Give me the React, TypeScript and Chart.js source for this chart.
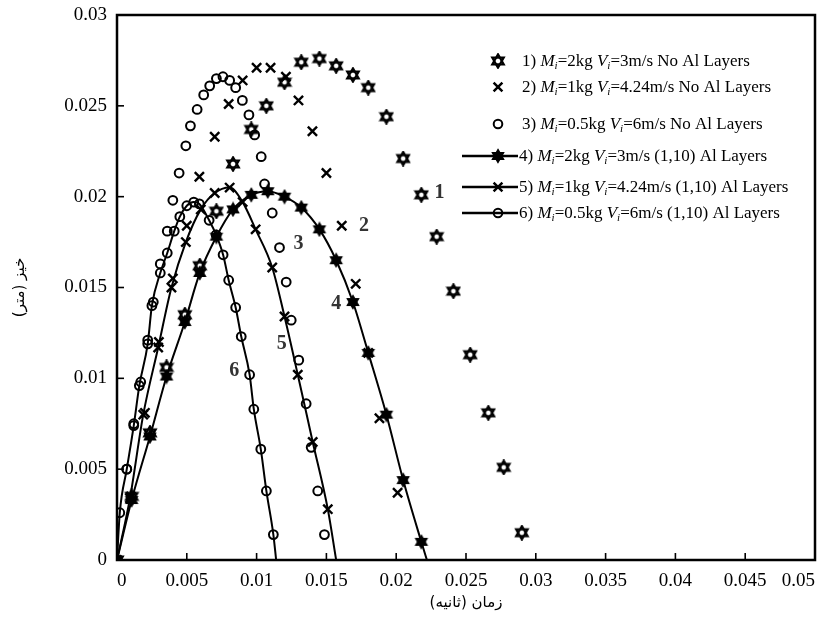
import React, { useEffect, useRef } from "react";
import { Chart, registerables } from "chart.js";
Chart.register(...registerables);

// ---- data ----
const s1X = [0, 0.00105, 0.00236, 0.00355, 0.00486, 0.00593, 0.00712, 0.00831, 0.00962, 0.0107, 0.012, 0.0132, 0.0145, 0.0157, 0.0169, 0.018, 0.0193, 0.0205, 0.0218, 0.0229, 0.0241, 0.0253, 0.0266, 0.0277, 0.029];
const s1Y = [0, 0.0035, 0.007, 0.0106, 0.0135, 0.0162, 0.0192, 0.0218, 0.0237, 0.025, 0.0263, 0.0274, 0.0276, 0.0272, 0.0267, 0.026, 0.0244, 0.0221, 0.0201, 0.0178, 0.0148, 0.0113, 0.0081, 0.0051, 0.0015];

const s2X = [0.001, 0.002, 0.003, 0.004, 0.005, 0.0059, 0.007, 0.008, 0.009, 0.01, 0.011, 0.0121, 0.013, 0.014, 0.015, 0.0161, 0.0171, 0.018, 0.0188, 0.0201];
const s2Y = [0.0035, 0.0081, 0.012, 0.0155, 0.0184, 0.0211, 0.0233, 0.0251, 0.0264, 0.0271, 0.0271, 0.0266, 0.0253, 0.0236, 0.0213, 0.0184, 0.0152, 0.0114, 0.0078, 0.0037];

const s3X = [0.0007, 0.0012, 0.0017, 0.0022, 0.0026, 0.0031, 0.0036, 0.004, 0.00445, 0.00493, 0.00526, 0.00574, 0.00621, 0.00664, 0.00712, 0.00759, 0.00807, 0.0085, 0.00898, 0.00945, 0.00986, 0.01033, 0.01057, 0.01112, 0.01164, 0.01212, 0.01248, 0.01302, 0.01355, 0.01391, 0.01438, 0.01486];
const s3Y = [0.005, 0.0075, 0.0098, 0.0121, 0.0142, 0.0163, 0.0181, 0.0198, 0.0213, 0.0228, 0.0239, 0.0248, 0.0256, 0.0261, 0.0265, 0.0266, 0.0264, 0.026, 0.0253, 0.0245, 0.0234, 0.0222, 0.0207, 0.0191, 0.0172, 0.0153, 0.0132, 0.011, 0.0086, 0.0062, 0.0038, 0.0014];

const s4X = [0, 0.00105, 0.00236, 0.00355, 0.00486, 0.00593, 0.00712, 0.00831, 0.00962, 0.0108, 0.012, 0.0132, 0.0145, 0.0157, 0.0169, 0.018, 0.0193, 0.0205, 0.0218, 0.0222];
const s4Y = [0, 0.0033, 0.0068, 0.0101, 0.0131, 0.0158, 0.0178, 0.0193, 0.0201, 0.0203, 0.02, 0.0194, 0.0182, 0.0165, 0.0142, 0.0114, 0.008, 0.0044, 0.001, 0];

const s5X = [0, 0.00093, 0.00188, 0.00295, 0.0039, 0.00493, 0.006, 0.007, 0.00807, 0.009, 0.00993, 0.01112, 0.012, 0.01295, 0.01402, 0.0151, 0.0157];
const s5Y = [0, 0.0034, 0.008, 0.0117, 0.015, 0.0175, 0.0193, 0.0202, 0.0205, 0.0197, 0.0182, 0.0161, 0.0134, 0.0102, 0.0065, 0.0028, 0];

const s6X = [0, 0.0002, 0.0007, 0.0012, 0.0016, 0.0022, 0.0025, 0.0031, 0.0036, 0.0041, 0.0045, 0.005, 0.0055, 0.0059, 0.0066, 0.0071, 0.0076, 0.008, 0.0085, 0.0089, 0.0095, 0.0098, 0.0103, 0.0107, 0.0112, 0.0114];
const s6Y = [0, 0.0026, 0.005, 0.0074, 0.0096, 0.0119, 0.014, 0.0158, 0.0169, 0.0181, 0.0189, 0.0195, 0.0197, 0.0196, 0.0187, 0.0179, 0.0168, 0.0154, 0.0139, 0.0123, 0.0102, 0.0083, 0.0061, 0.0038, 0.0014, 0];

const curveLabels = ["1", "2", "3", "4", "5", "6"];
const curveLabelX = [0.0231, 0.0177, 0.013, 0.0157, 0.0118, 0.0084];
const curveLabelY = [0.0202, 0.0184, 0.0174, 0.0141, 0.0119, 0.0104];

const legendNum = ["1)", "2)", "3)", "4)", "5)", "6)"];
const legendMass = ["2kg", "1kg", "0.5kg", "2kg", "1kg", "0.5kg"];
const legendVel = ["3m/s", "4.24m/s", "6m/s", "3m/s", "4.24m/s", "6m/s"];
const legendTail = ["No Al Layers", "No Al Layers", "No Al Layers", "(1,10) Al Layers", "(1,10) Al Layers", "(1,10) Al Layers"];

const xAxisTitle = "زمان (ثانیه)";
const yAxisTitle = "خیز (متر)";

// ---- helpers ----
const zip = (xs: number[], ys: number[]) => xs.map((x, i) => ({ x, y: ys[i] }));
const SERIF = "'Liberation Serif', 'Times New Roman', serif";
const fmt = (v: any) => {
  const n = Number(v);
  if (Math.abs(n) < 1e-12) return "0";
  return parseFloat(n.toFixed(4)).toString();
};

function makeHexagram(filled: boolean): HTMLCanvasElement {
  const c = document.createElement("canvas");
  const S = 16;
  c.width = S;
  c.height = S;
  const g = c.getContext("2d")!;
  const cx = S / 2, cy = S / 2, R = 6.6;
  const tri = (start: number) => {
    g.beginPath();
    for (let k = 0; k < 3; k++) {
      const a = ((start + k * 120) * Math.PI) / 180;
      const px = cx + R * Math.cos(a), py = cy + R * Math.sin(a);
      if (k === 0) g.moveTo(px, py);
      else g.lineTo(px, py);
    }
    g.closePath();
  };
  g.strokeStyle = "#000";
  g.fillStyle = "#000";
  if (filled) {
    tri(-90); g.fill();
    tri(90); g.fill();
    g.lineWidth = 1.2;
    tri(-90); g.stroke();
    tri(90); g.stroke();
  } else {
    g.lineWidth = 2.2;
    tri(-90); g.stroke();
    tri(90); g.stroke();
  }
  return c;
}

export default function App() {
  const ref = useRef<HTMLCanvasElement | null>(null);

  useEffect(() => {
    document.body.style.margin = "0";
    const canvas = ref.current!;
    const hexOpen = makeHexagram(false);
    const hexFilled = makeHexagram(true);

    const drawMarker = (ctx: CanvasRenderingContext2D, kind: number, x: number, y: number) => {
      ctx.save();
      ctx.strokeStyle = "#000";
      if (kind === 0 || kind === 3) {
        const img = kind === 0 ? hexOpen : hexFilled;
        ctx.drawImage(img, x - img.width / 2, y - img.height / 2);
      } else if (kind === 1 || kind === 4) {
        const r = 4.4;
        ctx.lineWidth = 2.5;
        ctx.beginPath();
        ctx.moveTo(x - r, y - r); ctx.lineTo(x + r, y + r);
        ctx.moveTo(x + r, y - r); ctx.lineTo(x - r, y + r);
        ctx.stroke();
      } else {
        ctx.lineWidth = 2;
        ctx.beginPath();
        ctx.arc(x, y, 4.3, 0, Math.PI * 2);
        ctx.stroke();
      }
      ctx.restore();
    };

    const deco = {
      id: "deco",
      afterDraw(chart: any) {
        const ctx: CanvasRenderingContext2D = chart.ctx;
        const { left, right, top, bottom } = chart.chartArea;
        const xs = chart.scales.x, ys = chart.scales.y;
        ctx.save();
        // inner tick marks
        ctx.strokeStyle = "#000";
        ctx.lineWidth = 1.6;
        xs.ticks.forEach((t: any) => {
          const px = xs.getPixelForValue(t.value);
          ctx.beginPath();
          ctx.moveTo(px, bottom);
          ctx.lineTo(px, bottom - 7);
          ctx.stroke();
        });
        ys.ticks.forEach((t: any) => {
          const py = ys.getPixelForValue(t.value);
          ctx.beginPath();
          ctx.moveTo(left, py);
          ctx.lineTo(left + 7, py);
          ctx.stroke();
        });
        // frame
        ctx.lineWidth = 2.5;
        ctx.strokeRect(left, top, right - left, bottom - top);

        // curve numbers
        ctx.fillStyle = "#333";
        ctx.font = `bold 20px ${SERIF}`;
        ctx.textAlign = "center";
        ctx.textBaseline = "middle";
        curveLabels.forEach((lab, i) => {
          ctx.fillText(lab, xs.getPixelForValue(curveLabelX[i]), ys.getPixelForValue(curveLabelY[i]));
        });

        // legend
        const rowY = [61, 87, 124, 156, 187, 213];
        const markerX = 498, lineX0 = 462, lineX1 = 518;
        ctx.textAlign = "left";
        ctx.textBaseline = "alphabetic";
        ctx.fillStyle = "#000";
        for (let i = 0; i < 6; i++) {
          const y = rowY[i];
          let tx = 522;
          if (i >= 3) {
            ctx.strokeStyle = "#000";
            ctx.lineWidth = 2.5;
            ctx.beginPath();
            ctx.moveTo(lineX0, y);
            ctx.lineTo(lineX1, y);
            ctx.stroke();
            tx = 519;
          }
          drawMarker(ctx, i, markerX, y);
          const base = y + 5;
          const segs: [string, string, number][] = [
            [legendNum[i] + " ", `17px ${SERIF}`, 0],
            ["M", `italic 17px ${SERIF}`, 0],
            ["i", `italic 11px ${SERIF}`, 3],
            ["=" + legendMass[i] + " ", `17px ${SERIF}`, 0],
            ["V", `italic 17px ${SERIF}`, 0],
            ["i", `italic 11px ${SERIF}`, 3],
            ["=" + legendVel[i] + " " + legendTail[i], `17px ${SERIF}`, 0],
          ];
          segs.forEach(([t, f, dy]) => {
            ctx.font = f;
            ctx.fillText(t, tx, base + dy);
            tx += ctx.measureText(t).width;
          });
        }
        ctx.restore();
      },
    };

    const lineBase = {
      showLine: true,
      borderColor: "#000",
      borderWidth: 2,
      cubicInterpolationMode: "monotone" as const,
      pointBorderColor: "#000",
    };
    const scatterBase = { showLine: false, pointBorderColor: "#000", borderColor: "#000" };
    const hideLast = (n: number, r: number) => (c: any) => (c.dataIndex === n - 1 ? 0 : r);

    const chart = new Chart(canvas, {
      type: "scatter",
      data: {
        datasets: [
          { ...lineBase, label: "4", data: zip(s4X, s4Y), pointStyle: hexFilled as any, pointRadius: hideLast(s4X.length, 7) as any },
          { ...lineBase, label: "5", data: zip(s5X, s5Y), pointStyle: "crossRot", pointRadius: hideLast(s5X.length, 6.5) as any, pointBorderWidth: 2.4 },
          { ...lineBase, label: "6", data: zip(s6X, s6Y), pointStyle: "circle", pointRadius: hideLast(s6X.length, 4.4) as any, pointBorderWidth: 2, pointBackgroundColor: "rgba(0,0,0,0)" },
          { ...scatterBase, label: "1", data: zip(s1X, s1Y), pointStyle: hexOpen as any, pointRadius: 7 },
          { ...scatterBase, label: "2", data: zip(s2X, s2Y), pointStyle: "crossRot", pointRadius: 6.5, pointBorderWidth: 2.4 },
          { ...scatterBase, label: "3", data: zip(s3X, s3Y), pointStyle: "circle", pointRadius: 4.4, pointBorderWidth: 2, pointBackgroundColor: "rgba(0,0,0,0)" },
        ],
      },
      options: {
        animation: false,
        responsive: false,
        layout: { padding: { top: 15, right: 7, left: 0, bottom: 0 } },
        plugins: { legend: { display: false }, tooltip: { enabled: false } },
        scales: {
          x: {
            type: "linear",
            min: 0,
            max: 0.05,
            ticks: {
              stepSize: 0.005,
              autoSkip: false,
              maxRotation: 0,
              align: "inner",
              padding: 10,
              color: "#000",
              font: { family: SERIF, size: 19 },
              callback: fmt,
            },
            grid: { display: false, drawTicks: false },
            border: { display: false },
            title: {
              display: true,
              text: xAxisTitle,
              color: "#000",
              font: { family: "'DejaVu Sans', sans-serif", size: 15 },
              padding: { top: 0, bottom: 10 },
            },
            afterFit: (s: any) => {
              s.height = 62;
              s.paddingLeft = 0;
              s.paddingRight = 0;
            },
          },
          y: {
            type: "linear",
            min: 0,
            max: 0.03,
            ticks: {
              stepSize: 0.005,
              autoSkip: false,
              padding: 10,
              color: "#000",
              font: { family: SERIF, size: 19 },
              callback: fmt,
            },
            grid: { display: false, drawTicks: false },
            border: { display: false },
            title: {
              display: true,
              text: yAxisTitle,
              color: "#000",
              font: { family: "'DejaVu Sans', sans-serif", size: 15 },
              padding: { top: 11, bottom: 0 },
            },
            afterFit: (s: any) => {
              s.width = 117;
              s.paddingTop = 0;
              s.paddingBottom = 0;
            },
          },
        },
      },
      plugins: [deco],
    } as any);

    return () => chart.destroy();
  }, []);

  return (
    <div style={{ width: 824, height: 622, position: "relative", background: "#fff" }}>
      <canvas ref={ref} width={824} height={622} style={{ display: "block" }} />
    </div>
  );
}
